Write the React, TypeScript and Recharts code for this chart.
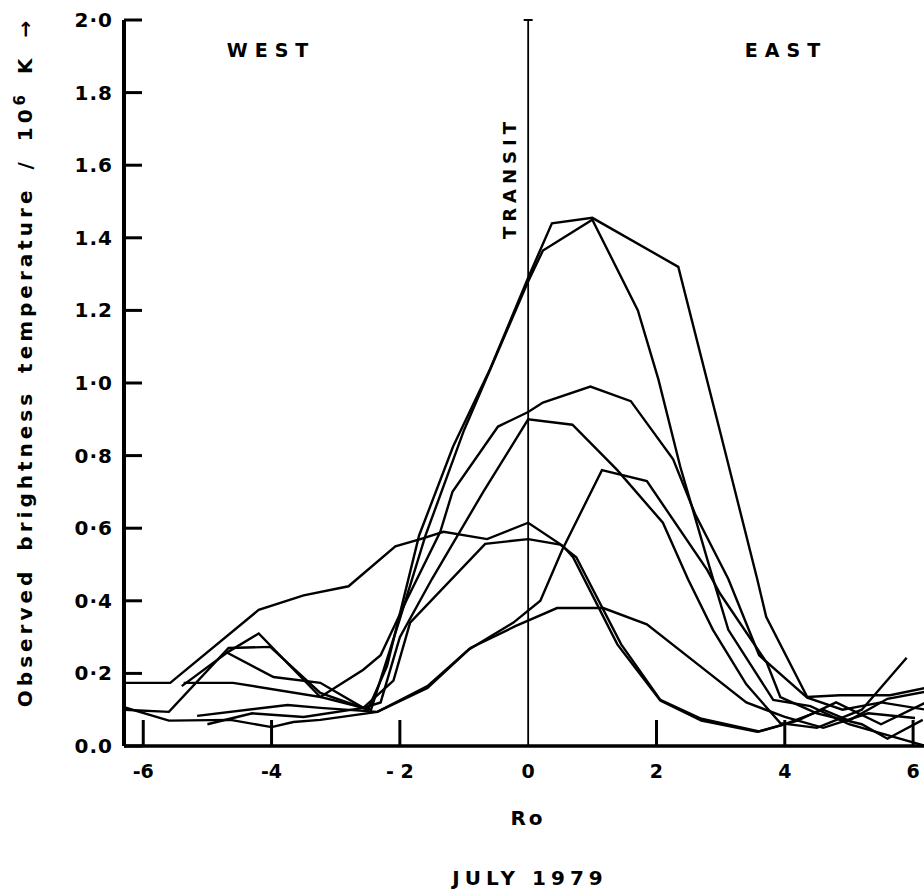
import { LineChart, Line, XAxis, YAxis, ReferenceLine } from "recharts";

type Pt = [number, number];

const FONT = "'DejaVu Sans', sans-serif";

const xTicks = [-6, -4, -2, 0, 2, 4, 6];
const xTickLabels = ["-6", "-4", "- 2", "0", "2", "4", "6"];
const yTicks = [0, 0.2, 0.4, 0.6, 0.8, 1.0, 1.2, 1.4, 1.6, 1.8, 2.0];
const yTickLabels = ["0.0", "0·2", "0·4", "0·6", "0·8", "1·0", "1.2", "1.4", "1.6", "1.8", "2·0"];

// profiles, [Ro, Tb / 10^6 K]
const scanA: Pt[] = [
  [-6.3, 0.1], [-5.6, 0.094], [-4.67, 0.27], [-4.02, 0.273], [-3.24, 0.146], [-2.5, 0.1],
  [-2.2, 0.22], [-1.7, 0.58], [-1.17, 0.825], [-0.59, 1.04], [0, 1.29], [0.37, 1.44],
  [1.0, 1.455], [2.34, 1.32], [3.0, 0.86], [3.57, 0.46], [3.71, 0.356], [4.35, 0.135],
  [4.86, 0.14], [5.64, 0.14], [6.2, 0.16],
];
const scanB: Pt[] = [
  [-5.4, 0.165], [-4.67, 0.26], [-4.2, 0.31], [-3.24, 0.135], [-2.45, 0.1], [-2.0, 0.35],
  [-1.6, 0.58], [-1.0, 0.87], [0, 1.28], [0.23, 1.365], [1.0, 1.45], [1.71, 1.2],
  [2.03, 1.01], [2.37, 0.77], [2.84, 0.485], [3.12, 0.32], [3.82, 0.127], [4.4, 0.11],
  [5.0, 0.06], [5.6, 0.03], [6.2, 0.0],
];
const scanC: Pt[] = [
  [-5.37, 0.174], [-4.6, 0.174], [-3.24, 0.135], [-2.57, 0.21], [-2.3, 0.25], [-1.9, 0.4],
  [-1.37, 0.59], [-1.18, 0.7], [-0.47, 0.88], [0, 0.92], [0.23, 0.946], [0.97, 0.99],
  [1.6, 0.95], [2.26, 0.79], [2.6, 0.64], [3.12, 0.46], [3.6, 0.25], [4.35, 0.133],
  [4.9, 0.1], [5.5, 0.12], [6.2, 0.1],
];
const scanD: Pt[] = [
  [-4.69, 0.257], [-3.97, 0.19], [-3.24, 0.174], [-2.57, 0.105], [-2.3, 0.12], [-2.0, 0.3],
  [-1.5, 0.46], [-0.7, 0.7], [0, 0.9], [0.69, 0.885], [1.39, 0.76], [2.1, 0.615],
  [2.49, 0.46], [2.88, 0.32], [3.4, 0.17], [3.93, 0.063], [4.5, 0.05], [5.2, 0.1], [5.9, 0.243],
];
const scanE: Pt[] = [
  [-6.3, 0.107], [-5.6, 0.07], [-4.64, 0.072], [-4.0, 0.052], [-3.66, 0.066], [-3.24, 0.072],
  [-2.35, 0.094], [-1.57, 0.16], [-0.93, 0.265], [-0.23, 0.34], [0.19, 0.4], [0.53, 0.54],
  [1.15, 0.76], [1.85, 0.73], [2.79, 0.485], [2.99, 0.42], [3.72, 0.229], [3.93, 0.135],
  [4.5, 0.09], [5.2, 0.06], [5.6, 0.02], [6.15, 0.072],
];
const scanF: Pt[] = [
  [-5.16, 0.083], [-3.75, 0.113], [-3.24, 0.105], [-2.35, 0.094], [-1.57, 0.165], [-0.9, 0.27],
  [-0.2, 0.33], [0.45, 0.38], [1.17, 0.38], [1.85, 0.335], [2.68, 0.22], [3.4, 0.12],
  [4.0, 0.08], [4.6, 0.05], [5.3, 0.09], [6.03, 0.077],
];
const scanG: Pt[] = [
  [-6.3, 0.174], [-5.58, 0.174], [-4.2, 0.375], [-3.5, 0.415], [-2.8, 0.44], [-2.07, 0.55],
  [-1.68, 0.57], [-1.32, 0.59], [-0.64, 0.57], [0, 0.615], [0.55, 0.55], [0.7, 0.52],
  [1.39, 0.28], [2.06, 0.125], [2.7, 0.07], [3.57, 0.039], [4.0, 0.06], [4.6, 0.1],
  [5.0, 0.07], [5.6, 0.13], [6.2, 0.15],
];
const scanH: Pt[] = [
  [-5.0, 0.06], [-4.3, 0.09], [-3.5, 0.08], [-2.57, 0.105], [-2.1, 0.18], [-1.84, 0.34],
  [-0.67, 0.557], [0, 0.57], [0.5, 0.555], [0.75, 0.52], [1.45, 0.28], [2.06, 0.127],
  [2.7, 0.075], [3.6, 0.04], [4.2, 0.07], [4.8, 0.12], [5.5, 0.06], [6.2, 0.12],
];

const scans = [scanA, scanB, scanC, scanD, scanE, scanF, scanG, scanH];

function XTick(props: any) {
  const { x, y, payload } = props;
  const i = xTicks.indexOf(payload.value);
  return (
    <g>
      {payload.value !== 0 && <line x1={x} x2={x} y1={y - 26} y2={y} stroke="#000" strokeWidth={3} />}
      <text x={x} y={y + 32} textAnchor="middle" fontFamily={FONT} fontWeight="bold" fontSize={19} fill="#000">
        {xTickLabels[i]}
      </text>
    </g>
  );
}

function YTick(props: any) {
  const { x, y, payload } = props;
  const i = yTicks.findIndex((t) => Math.abs(t - payload.value) < 1e-6);
  return (
    <g>
      <line x1={x} x2={x + 18} y1={y} y2={y} stroke="#000" strokeWidth={3} />
      <text x={x - 11} y={y + 7} textAnchor="end" fontFamily={FONT} fontWeight="bold" fontSize={20} letterSpacing={1} fill="#000">
        {yTickLabels[i]}
      </text>
    </g>
  );
}

const textStyle = {
  position: "absolute" as const,
  fontFamily: FONT,
  fontWeight: 700,
  color: "#000",
  whiteSpace: "nowrap" as const,
  transform: "translate(-50%, -50%)",
};

export default function App() {
  return (
    <div style={{ position: "absolute", left: 0, top: 0, width: 924, height: 894, background: "#fff", overflow: "hidden" }}>
      <LineChart width={924} height={894} margin={{ top: 20, right: 0, bottom: 0, left: 0 }}>
        <XAxis
          dataKey="x"
          type="number"
          domain={[-6.3, 6.17]}
          allowDataOverflow
          ticks={xTicks}
          interval={0}
          height={148}
          tickSize={0}
          tickMargin={0}
          tickLine={false}
          axisLine={{ stroke: "#000", strokeWidth: 3.5 }}
          tick={<XTick />}
        />
        <YAxis
          type="number"
          domain={[0, 2]}
          ticks={yTicks}
          interval={0}
          width={124}
          tickSize={0}
          tickMargin={0}
          tickLine={false}
          axisLine={{ stroke: "#000", strokeWidth: 4 }}
          tick={<YTick />}
        />
        <ReferenceLine x={0} stroke="#000" strokeWidth={1.8} />
        <ReferenceLine
          segment={[{ x: -0.07, y: 2 }, { x: 0.07, y: 2 }]}
          stroke="#000"
          strokeWidth={2}
          ifOverflow="visible"
        />
        {scans.map((s, i) => (
          <Line
            key={i}
            data={s.map(([x, y]) => ({ x, y }))}
            dataKey="y"
            type="linear"
            stroke="#000"
            strokeWidth={2.4}
            dot={false}
            activeDot={false}
            isAnimationActive={false}
          />
        ))}
      </LineChart>

      <div style={{ ...textStyle, left: 271, top: 50, fontSize: 19, letterSpacing: 7 }}>WEST</div>
      <div style={{ ...textStyle, left: 786, top: 50, fontSize: 19, letterSpacing: 7 }}>EAST</div>
      <div style={{ ...textStyle, left: 509, top: 178, fontSize: 18, letterSpacing: 5, transform: "translate(-50%, -50%) rotate(-90deg)" }}>
        TRANSIT
      </div>
      <div style={{ ...textStyle, left: 528, top: 818, fontSize: 20, letterSpacing: 3 }}>Ro</div>
      <div style={{ ...textStyle, left: 530, top: 878, fontSize: 20, letterSpacing: 5 }}>JULY 1979</div>
      <div
        style={{
          ...textStyle,
          left: 24,
          top: 362,
          fontSize: 20,
          letterSpacing: 4,
          wordSpacing: 6,
          transform: "translate(-50%, -50%) rotate(-90deg)",
        }}
      >
        Observed brightness temperature / 10<sup style={{ fontSize: 15 }}>6</sup> K →
      </div>
    </div>
  );
}
